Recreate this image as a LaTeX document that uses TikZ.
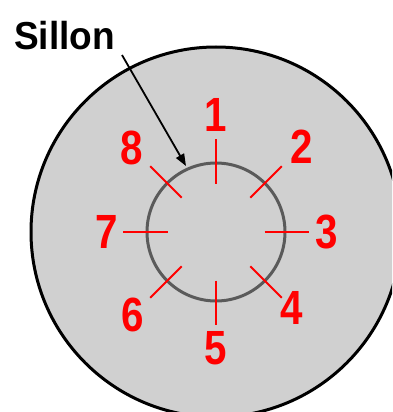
\documentclass[tikz,border=0pt]{standalone}
\usepackage{fontspec}
\setmainfont{Liberation Sans}
\newfontfamily\labelfont[FakeStretch=0.84]{Liberation Sans Bold}
\newfontfamily\titlefont[FakeStretch=0.95]{Liberation Sans Bold}
\usetikzlibrary{arrows.meta}
\definecolor{disc}{HTML}{D0D0D0}
\definecolor{groove}{HTML}{5A5A5A}
\definecolor{markred}{HTML}{FF0000}
\tikzset{
  tickline/.style={draw=markred, line width=2pt},
  num/.style={text=markred, font=\labelfont\fontsize{48}{48}\selectfont, inner sep=0pt, anchor=center},
}
\begin{document}
\begin{tikzpicture}[x=1pt,y=-1pt]
\useasboundingbox (0,0) rectangle (392,412);
\clip (0,0) rectangle (392,412);
\node[circle, draw=black, line width=3pt, fill=disc, minimum size=370pt, inner sep=0pt] (outer) at (216,232) {};
\node[circle, draw=groove, line width=3pt, minimum size=138pt, inner sep=0pt] (inner) at (216,232) {};
\foreach \i/\a/\r in {1/90/117, 2/45/121, 3/0/111, 4/-45/107, 5/-90/116, 6/-135/118, 7/180/109, 8/135/119} {
  \coordinate (t\i a) at ([shift={(216,232)}] -\a:48.5);
  \coordinate (t\i b) at ([shift={(216,232)}] -\a:93);
  \draw[tickline] (t\i a) -- (t\i b);
  \node[num] (n\i) at ([shift={(216,232)}] -\a:\r) {\i};
}
\node[font=\titlefont\fontsize{39}{39}\selectfont, anchor=base west, inner sep=0pt] (sillon) at (14,49) {Sillon};
\coordinate (tip) at (186,166);
\draw[black, line width=1.8pt, -{Triangle[length=12pt,width=9pt]}] (122,55) -- (tip);
\end{tikzpicture}
\end{document}
